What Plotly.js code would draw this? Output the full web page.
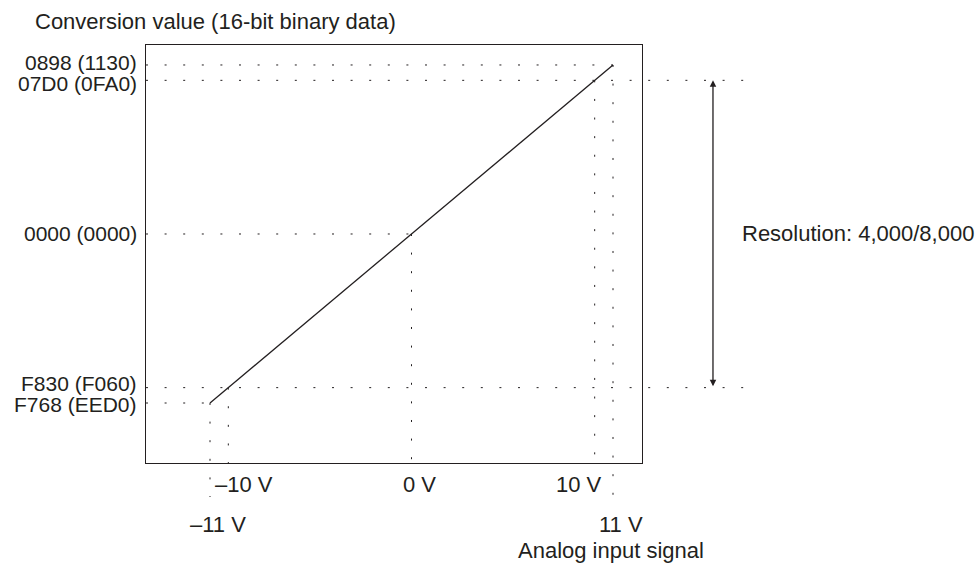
<!DOCTYPE html>
<html><head><meta charset="utf-8">
<script src="https://cdn.plot.ly/plotly-3.0.1.min.js"></script>
<style>html,body{margin:0;padding:0;background:#fff}</style>
</head><body><div id="chart" style="width:978px;height:564px"></div>
<script>
// ---- data ----
const voltages = [-11, -10, 0, 10, 11];
const conversionValues = [-2200, -2000, 0, 2000, 2200]; // F768, F830, 0000, 07D0, 0898 (decimal)
const hexLabels = ['F768 (EED0)', 'F830 (F060)', '0000 (0000)', '07D0 (0FA0)', '0898 (1130)'];
const voltLabels = ['\u201311 V', '\u201310 V', '0 V', '10 V', '11 V'];
const resolutionSpan = [-2000, 2000];
const resolutionText = 'Resolution: 4,000/8,000';
const xTitle = 'Analog input signal';
const yTitle = 'Conversion value (16-bit binary data)';

// ---- layout helpers ----
const xr = [-14.494, 12.583];
const yr = [-2981, 2460];
const ink = '#231f20';
const dotDash = '2px,16.6px';
const yPaper = v => (v - yr[0]) / (yr[1] - yr[0]);

const shapes = [];
voltages.forEach((v, i) => {
  const c = conversionValues[i];
  const inRes = resolutionSpan.includes(c);
  if (inRes) {
    shapes.push({type:'line', xref:'paper', yref:'y', x0:0, x1:1.2097, y0:c, y1:c,
      line:{color:ink, width:1, dash:dotDash}});
  } else {
    shapes.push({type:'line', xref:'x', yref:'y', x0:xr[0], x1:v, y0:c, y1:c,
      line:{color:ink, width:1, dash:dotDash}});
  }
  if (Math.abs(v) > 10) {
    shapes.push({type:'line', xref:'x', yref:'paper', x0:v, x1:v, y0:yPaper(c), y1:-0.0813,
      line:{color:ink, width:1, dash:dotDash}});
  } else {
    shapes.push({type:'line', xref:'x', yref:'y', x0:v, x1:v, y0:c, y1:yr[0],
      line:{color:ink, width:1, dash:dotDash}});
  }
});

const labelShift = {'-11':8, '-10':16, '0':8, '10':-16, '11':8};
const yLabelShift = {'-2200':-1, '-2000':4, '0':0, '2000':-3, '2200':2};
const annotations = voltages.map((v, i) => ({
  xref:'x', yref:'paper', x:v, y: Math.abs(v) > 10 ? -0.1483 : -0.0526,
  xshift: labelShift[String(v)], text: voltLabels[i], showarrow:false,
  xanchor:'center', yanchor:'middle'
}));
conversionValues.forEach((c, i) => annotations.push({
  xref:'paper', yref:'y', x:0, y:c, xshift:-7, yshift:yLabelShift[String(c)],
  xanchor:'right', yanchor:'middle', text:hexLabels[i], showarrow:false,
  font:{size:21}
}));
annotations.push(
  {xref:'paper', yref:'paper', x:0.746, y:-0.2105, xanchor:'left', yanchor:'middle', text:xTitle, showarrow:false},
  {xref:'paper', yref:'paper', x:-0.2278, y:1.0574, xanchor:'left', yanchor:'middle', text:yTitle, showarrow:false},
  {xref:'paper', yref:'y', x:1.1976, y:(resolutionSpan[0]+resolutionSpan[1])/2, xanchor:'left', yanchor:'middle', text:resolutionText, showarrow:false},
  {xref:'paper', x:1.1431, yref:'y', y:resolutionSpan[1], axref:'pixel', ax:0, ayref:'y', ay:resolutionSpan[0],
   text:'', showarrow:true, arrowhead:2, startarrowhead:2, arrowside:'end+start', arrowsize:1, startarrowsize:1,
   arrowwidth:1.3, arrowcolor:ink}
);

const data = [{
  x: voltages, y: conversionValues, type:'scatter', mode:'lines',
  line:{color:ink, width:1.3}, hoverinfo:'skip'
}];

const layout = {
  width:978, height:564,
  margin:{l:146, r:336, t:45, b:101},
  paper_bgcolor:'#fff', plot_bgcolor:'#fff', showlegend:false,
  font:{family:'"Liberation Sans", Arial, Helvetica, sans-serif', size:22, color:ink},
  xaxis:{range:xr, showgrid:false, zeroline:false, showticklabels:false, ticks:'',
    showline:true, mirror:true, linecolor:ink, linewidth:1.2, fixedrange:true},
  yaxis:{range:yr, showgrid:false, zeroline:false, showticklabels:false,
    ticks:'', showline:true, mirror:true, linecolor:ink, linewidth:1.2, fixedrange:true},
  shapes: shapes,
  annotations: annotations
};

Plotly.newPlot('chart', data, layout, {displayModeBar:false, staticPlot:true});
</script>
</body></html>
